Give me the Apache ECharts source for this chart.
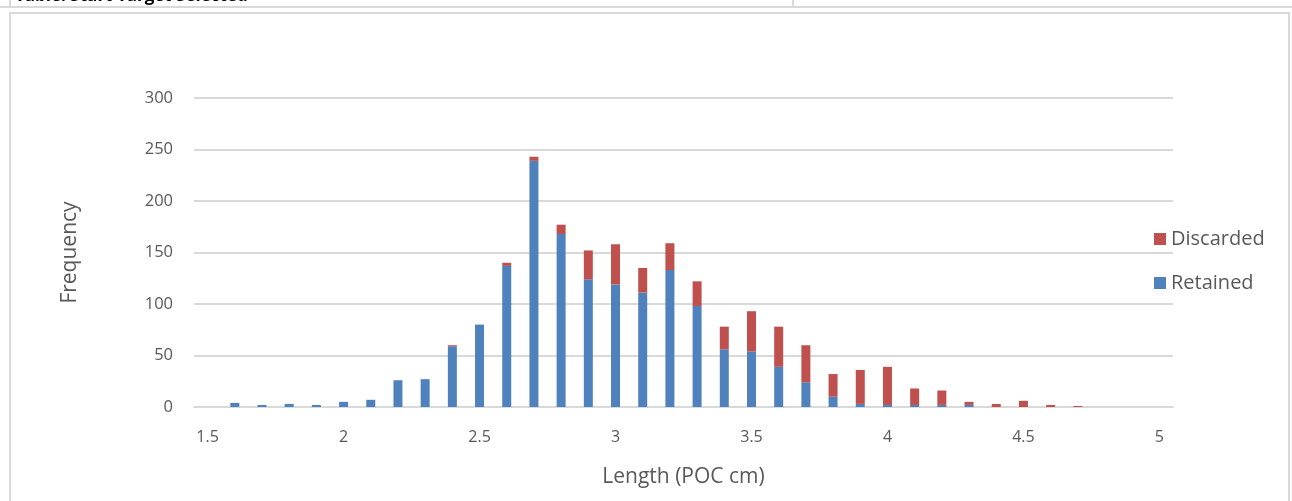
<!DOCTYPE html>
<html>
<head>
<meta charset="utf-8">
<script src="https://cdn.jsdelivr.net/npm/echarts@6/dist/echarts.min.js"></script>
<style>
  html, body { margin: 0; padding: 0; background: #fff; overflow: hidden; }
  #wrap { position: relative; width: 1292px; height: 501px; }
  #chart { position: absolute; left: 0; top: 0; width: 1292px; height: 501px; }
  .ln { position: absolute; background: #d9d9d9; pointer-events: none; }
  #capbox { position: absolute; left: 0; top: 0; width: 792px; height: 6px; overflow: hidden; }
  #cap { position: absolute; left: 15px; top: -17px; font-family: "Open Sans", sans-serif; font-weight: bold; font-size: 17px; color: #000; white-space: nowrap; }
</style>
</head>
<body>
<div id="wrap">
  <div id="chart"></div>
  <div id="capbox"><div id="cap">Table: Start Target Selected</div></div>
  <div class="ln" style="left:0;top:6px;width:1292px;height:2px;"></div>
  <div class="ln" style="left:9px;top:0;width:2px;height:7px;"></div>
  <div class="ln" style="left:792px;top:0;width:2px;height:7px;"></div>
  <div class="ln" style="left:9px;top:12px;width:1281px;height:2px;"></div>
  <div class="ln" style="left:9px;top:12px;width:2px;height:489px;"></div>
  <div class="ln" style="left:1288px;top:12px;width:2px;height:489px;"></div>
</div>
<script>
// length classes (cm), 0.1 steps from 1.5 to 5.0
const lengths = ['1.5','1.6','1.7','1.8','1.9','2','2.1','2.2','2.3','2.4','2.5','2.6','2.7','2.8','2.9','3','3.1','3.2','3.3','3.4','3.5','3.6','3.7','3.8','3.9','4','4.1','4.2','4.3','4.4','4.5','4.6','4.7','4.8','4.9','5'];
const retained  = [0,4,2,3,2,5,7,26,27,59,80,137,239,168,124,119,111,133,98,56,54,39,24,10,3,2,2,2,2,0,0,0,0,0,0,0];
const discarded = [0,0,0,0,0,0,0,0,0,1,0,3,4,9,28,39,24,26,24,22,39,39,36,22,33,37,16,14,3,3,6,2,1,0,0,0];
const xTickLabels = ['1.5','2','2.5','3','3.5','4','4.5','5'];
const yTicks = [0,50,100,150,200,250,300];

const font = '"Open Sans", sans-serif';
const chart = echarts.init(document.getElementById('chart'), null, { renderer: 'canvas' });
chart.setOption({
  animation: false,
  backgroundColor: '#fff',
  grid: { left: 194, right: 119, top: 98, bottom: 94, containLabel: false },
  legend: {
    orient: 'vertical',
    left: 1149, top: 223,
    itemWidth: 12, itemHeight: 12, itemGap: 22,
    icon: 'rect',
    textStyle: { fontFamily: font, fontSize: 20, color: '#595959', lineHeight: 22 },
    data: ['Discarded', 'Retained']
  },
  xAxis: {
    type: 'category', data: lengths, boundaryGap: true,
    name: 'Length (POC cm)', nameLocation: 'middle', nameGap: 60,
    nameTextStyle: { fontFamily: font, fontSize: 21, color: '#595959' },
    axisLine: { show: true, lineStyle: { color: '#d9d9d9', width: 2 } },
    axisTick: { show: false },
    splitLine: { show: false },
    axisLabel: {
      interval: 0, fontFamily: font, fontSize: 16, color: '#595959', margin: 22,
      formatter: v => (xTickLabels.indexOf(v) >= 0 ? v : '')
    }
  },
  yAxis: {
    type: 'value', min: 0, max: 300, interval: 50,
    name: 'Frequency', nameLocation: 'middle', nameGap: 113, nameRotate: 90,
    nameTextStyle: { fontFamily: font, fontSize: 21, color: '#595959' },
    axisLine: { show: false }, axisTick: { show: false },
    splitLine: { lineStyle: { color: '#d9d9d9', width: 2 } },
    axisLabel: { fontFamily: font, fontSize: 16.5, color: '#595959', margin: 21,
      formatter: v => (yTicks.indexOf(v) >= 0 ? String(v) : '') }
  },
  series: [
    {
      name: 'Retained', type: 'bar', stack: 'total', barWidth: 9,
      itemStyle: { color: '#4f81bd' },
      data: retained
    },
    {
      name: 'Discarded', type: 'bar', stack: 'total', barWidth: 9,
      itemStyle: { color: '#c0504d' },
      data: discarded
    }
  ]
});
</script>
</body>
</html>
